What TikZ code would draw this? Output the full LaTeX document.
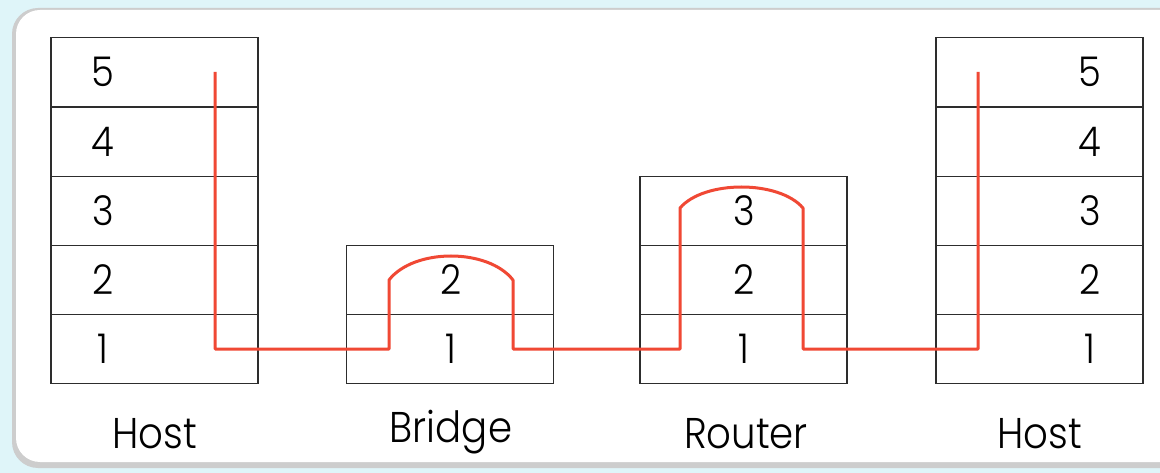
\documentclass[tikz,border=0pt]{standalone}
\usepackage{fontspec}
\setmainfont{Poppins Light}[FakeStretch=0.9]
\definecolor{bgblue}{RGB}{223,245,249}
\definecolor{boxline}{RGB}{45,45,45}
\definecolor{pathred}{RGB}{240,72,52}
\definecolor{shadow}{RGB}{205,205,205}
\begin{document}
\begin{tikzpicture}[x=1pt,y=-1pt,
  cell/.style={draw=boxline,line width=1.5pt,minimum width=207pt,minimum height=69pt,inner sep=0pt},
  num/.style={inner sep=0pt,font=\fontsize{41}{41}\selectfont},
  lbl/.style={inner sep=0pt,font=\fontsize{43}{43}\selectfont},
  route/.style={draw=pathred,line width=3pt,line join=round}]
\useasboundingbox (0,0) rectangle (1160,473);
\fill[bgblue] (0,0) rectangle (1160,473);
\fill[shadow,rounded corners=26pt] (12,8) rectangle (1190,468);
\fill[white,rounded corners=24pt] (16,10) rectangle (1190,462);
% left host
\foreach \i/\y in {1/349,2/280,3/211,4/142,5/72}{
  \node[cell] (hl\i) at (154.5,\y) {};
  \node[num] (nl\i) at (103,\y) {\i};
}
% bridge
\foreach \i/\y in {1/349,2/280}{
  \node[cell] (b\i) at (450,\y) {};
  \node[num] (nb\i) at (451,\y) {\i};
}
% router
\foreach \i/\y in {1/349,2/280,3/211}{
  \node[cell] (r\i) at (743.5,\y) {};
  \node[num] (nr\i) at (744,\y) {\i};
}
% right host
\foreach \i/\y in {1/349,2/280,3/211,4/142,5/72}{
  \node[cell] (hr\i) at (1039.5,\y) {};
  \node[num] (nrh\i) at (1090,\y) {\i};
}
\node[lbl] (lh) at (155,434) {Host};
\node[lbl] (lb) at (451,432) {Bridge};
\node[lbl] (lr) at (746,434) {Router};
\node[lbl] (lrh) at (1040,434) {Host};
% route
\coordinate (p0) at (215,72);
\coordinate (p1) at (215,349);
\coordinate (p2) at (389,349);
\coordinate (p3) at (389,280);
\coordinate (p4) at (513,280);
\coordinate (p5) at (513,349);
\coordinate (p6) at (680,349);
\coordinate (p7) at (680,208);
\coordinate (p8) at (803,208);
\coordinate (p9) at (803,349);
\coordinate (p10) at (978,349);
\coordinate (p11) at (978,72);
\draw[route] (p0) -- (p1) -- (p2) -- (p3)
  .. controls (414,248) and (488,248) .. (p4) -- (p5) -- (p6) -- (p7)
  .. controls (704,180) and (779,180) .. (p8) -- (p9) -- (p10) -- (p11);
\end{tikzpicture}
\end{document}
